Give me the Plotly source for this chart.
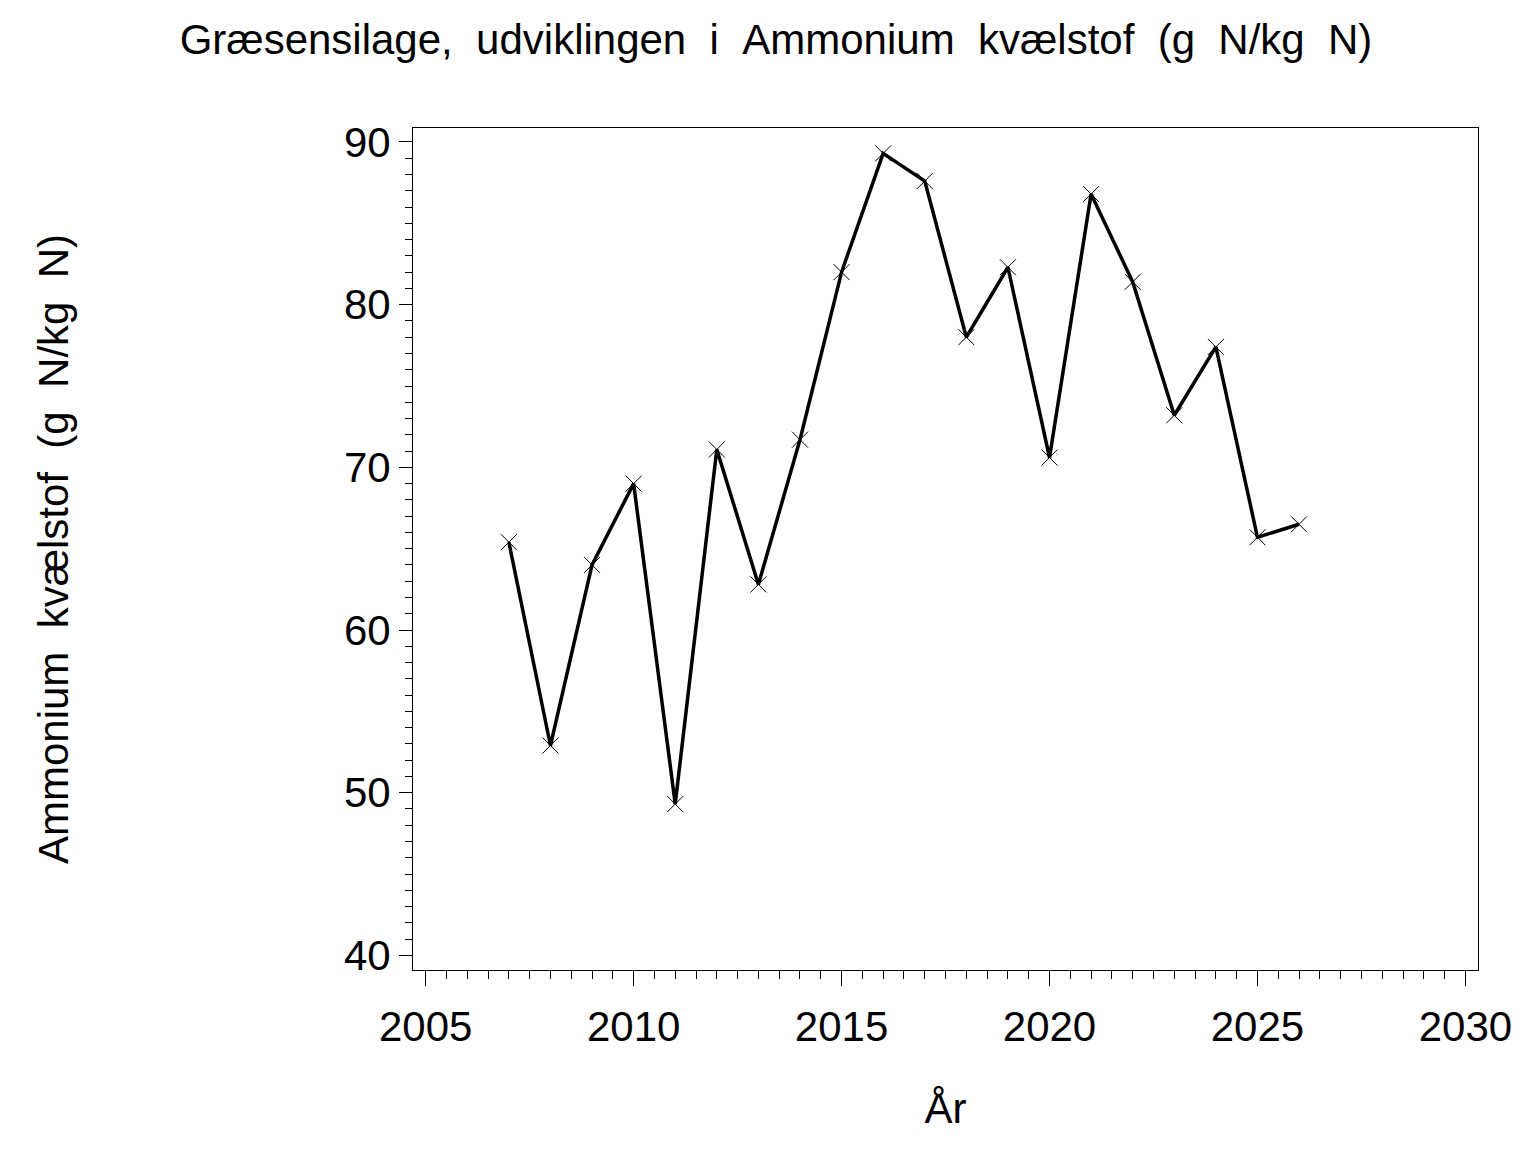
import plotly.graph_objects as go

# Aar og maalt ammonium kvaelstof (g N/kg N), aflaest fra figuren
years = [2007, 2008, 2009, 2010, 2011, 2012, 2013, 2014, 2015, 2016,
         2017, 2018, 2019, 2020, 2021, 2022, 2023, 2024, 2025, 2026]
ammonium = [65.4, 52.9, 64.0, 69.0, 49.3, 71.1, 62.8, 71.7, 82.0, 89.3,
            87.6, 78.0, 82.3, 70.6, 86.8, 81.4, 73.2, 77.4, 65.7, 66.5]

x_ticks = [2005, 2010, 2015, 2020, 2025, 2030]
y_ticks = [40, 50, 60, 70, 80, 90]

SP = " \u00a0"  # SAS-agtig dobbelt mellemrum
title_text = SP.join("Græsensilage, udviklingen i Ammonium kvælstof (g N/kg N)".split(" "))
ytitle_text = SP.join("Ammonium kvælstof (g N/kg N)".split(" "))

FONT = "Liberation Sans, Arial, sans-serif"
FS = 42

fig = go.Figure()
fig.add_trace(go.Scatter(
    x=years,
    y=ammonium,
    mode="lines+markers",
    line=dict(color="black", width=3.5),
    marker=dict(symbol="x-thin", size=16, line=dict(color="black", width=1)),
    showlegend=False,
))

# siden har 8 px body-margin, derfor forskydes margenerne
fig.update_layout(
    width=1536,
    height=1152,
    paper_bgcolor="white",
    plot_bgcolor="white",
    font=dict(family=FONT, color="black"),
    margin=dict(l=405, r=66, t=120, b=190, autoexpand=False),
    title=dict(
        text=title_text,
        font=dict(size=FS, family=FONT, color="black"),
        x=0.5, xref="container", xanchor="center",
        y=1 - 31 / 1152, yref="container", yanchor="middle",
    ),
    xaxis=dict(
        range=[2004.695, 2030.303],
        tickvals=x_ticks,
        ticks="outside", ticklen=15, tickwidth=1, tickcolor="black",
        minor=dict(dtick=0.5, tick0=2005, ticks="outside", ticklen=8,
                   tickwidth=1, tickcolor="black", showgrid=False),
        showline=True, linecolor="black", linewidth=1, mirror=True,
        showgrid=False, zeroline=False,
        tickfont=dict(size=FS, family=FONT, color="black"),
        ticklabelstandoff=5,
        title=dict(text="År", font=dict(size=FS, family=FONT, color="black"),
                   standoff=44),
        automargin=False,
    ),
    yaxis=dict(
        range=[39.1, 90.86],
        tickvals=y_ticks,
        ticks="outside", ticklen=13, tickwidth=1, tickcolor="black",
        minor=dict(dtick=1, tick0=40, ticks="outside", ticklen=7,
                   tickwidth=1, tickcolor="black", showgrid=False),
        showline=True, linecolor="black", linewidth=1, mirror=True,
        showgrid=False, zeroline=False,
        tickfont=dict(size=FS, family=FONT, color="black"),
        ticklabelstandoff=0,
        title=dict(text=ytitle_text, font=dict(size=FS, family=FONT, color="black"),
                   standoff=262),
        automargin=False,
    ),
)

fig.write_html("out.html")
